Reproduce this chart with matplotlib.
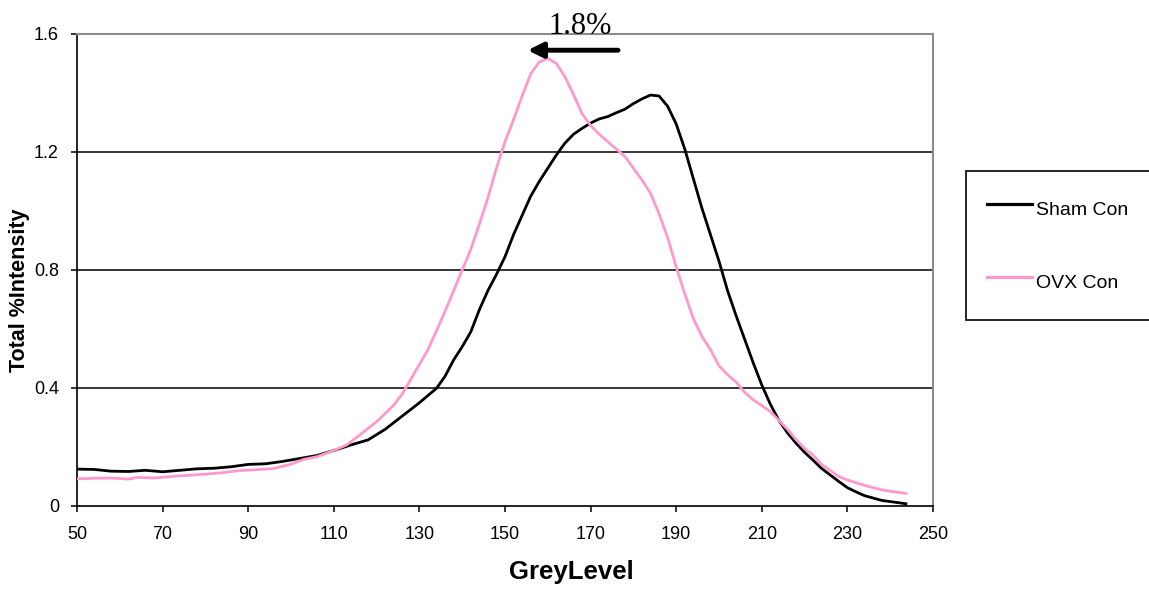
import matplotlib
matplotlib.use("Agg")
import matplotlib.pyplot as plt
from matplotlib.lines import Line2D

plt.rcParams["font.family"] = ["Liberation Sans", "DejaVu Sans"]

# Grey-level histograms (total % intensity)
sham_grey = [50, 54, 58, 62, 66, 70, 74, 78, 82, 86, 90, 94, 98, 102, 106, 110,
             114, 118, 122, 126, 130, 134, 136, 138, 140, 142, 144, 146, 148, 150,
             152, 154, 156, 158, 160, 162, 164, 166, 168, 170, 172, 174, 176, 178,
             180, 182, 184, 186, 188, 190, 192, 194, 196, 198, 200, 202, 204, 206,
             208, 210, 212, 214, 216, 218, 220, 222, 224, 226, 228, 230, 232, 234,
             236, 238, 240, 242, 244]
sham_int = [0.125, 0.124, 0.118, 0.117, 0.121, 0.116, 0.121, 0.126, 0.128, 0.133,
            0.141, 0.143, 0.151, 0.161, 0.171, 0.188, 0.207, 0.224, 0.260, 0.305,
            0.350, 0.399, 0.440, 0.495, 0.540, 0.590, 0.665, 0.730, 0.785, 0.845,
            0.920, 0.985, 1.050, 1.100, 1.145, 1.190, 1.230, 1.260, 1.280, 1.298,
            1.312, 1.320, 1.333, 1.345, 1.364, 1.380, 1.393, 1.390, 1.355, 1.295,
            1.210, 1.110, 1.010, 0.920, 0.830, 0.730, 0.645, 0.565, 0.485, 0.410,
            0.345, 0.290, 0.248, 0.213, 0.182, 0.155, 0.127, 0.105, 0.083, 0.062,
            0.048, 0.035, 0.027, 0.019, 0.015, 0.011, 0.007]

ovx_grey = [50, 54, 58, 62, 64, 68, 72, 76, 80, 84, 88, 92, 96, 100, 103, 106, 110,
            113, 116, 120, 124, 126, 128, 130, 132, 134, 136, 138, 140, 142, 144,
            146, 148, 150, 152, 154, 156, 158, 160, 162, 164, 166, 168, 170, 172,
            174, 176, 178, 180, 182, 184, 186, 188, 190, 192, 194, 196, 198, 200,
            202, 204, 206, 208, 210, 212, 214, 216, 218, 220, 222, 224, 226, 228,
            230, 232, 234, 236, 238, 240, 242, 244]
ovx_int = [0.092, 0.094, 0.095, 0.091, 0.097, 0.095, 0.100, 0.104, 0.108, 0.113,
           0.120, 0.123, 0.127, 0.142, 0.158, 0.167, 0.188, 0.207, 0.240, 0.286,
           0.342, 0.380, 0.430, 0.480, 0.530, 0.595, 0.660, 0.730, 0.800, 0.870,
           0.955, 1.045, 1.145, 1.235, 1.310, 1.390, 1.465, 1.505, 1.517, 1.500,
           1.455, 1.395, 1.330, 1.290, 1.260, 1.235, 1.210, 1.185, 1.145, 1.105,
           1.060, 0.990, 0.910, 0.810, 0.720, 0.635, 0.575, 0.530, 0.475, 0.445,
           0.420, 0.385, 0.360, 0.340, 0.320, 0.290, 0.260, 0.225, 0.195, 0.172,
           0.140, 0.120, 0.100, 0.088, 0.079, 0.070, 0.062, 0.055, 0.050, 0.046,
           0.042]

x_ticks = [50, 70, 90, 110, 130, 150, 170, 190, 210, 230, 250]
y_ticks = [0, 0.4, 0.8, 1.2, 1.6]
y_tick_labels = ["0", "0.4", "0.8", "1.2", "1.6"]
series_labels = ["Sham Con", "OVX Con"]
shift_label = "1.8%"

fig = plt.figure(figsize=(11.49, 5.90), dpi=100)
ax = fig.add_axes([77 / 1149, 84 / 590, (933 - 77) / 1149, (506 - 34) / 590])

sham_color = "#000000"
ovx_color = "#FF99CC"

ax.plot(sham_grey, sham_int, color=sham_color, lw=2.0, solid_capstyle="butt",
        solid_joinstyle="round", zorder=3)
ax.plot(ovx_grey, ovx_int, color=ovx_color, lw=2.0, solid_capstyle="butt",
        solid_joinstyle="round", zorder=3)

ax.set_xlim(50, 250)
ax.set_ylim(0, 1.6)
ax.set_xticks(x_ticks)
ax.set_yticks(y_ticks)
ax.set_yticklabels(y_tick_labels)

for yv in y_ticks[1:-1]:
    ax.axhline(yv, color="black", lw=1.1, zorder=1)

for side in ("left", "bottom"):
    ax.spines[side].set_color("black")
    ax.spines[side].set_linewidth(1.2)
for side in ("top", "right"):
    ax.spines[side].set_color("#8c8c8c")
    ax.spines[side].set_linewidth(1.5)

ax.tick_params(axis="x", direction="out", length=4, width=1.1, pad=10.5, labelsize=13)
ax.tick_params(axis="y", direction="out", length=4, width=1.1, pad=9, labelsize=13)

fig.text(571 / 1149, 1 - 572 / 590, "GreyLevel", ha="center", va="center",
         fontsize=18.5, fontweight="bold")
fig.text(20 / 1149, 1 - 290 / 590, "Total %Intensity", ha="center", va="center",
         rotation=90, fontsize=15.5, fontweight="bold")

# Peak-shift arrow and annotation
ax.annotate("", xy=(155.3, 1.545), xytext=(176.4, 1.545),
            arrowprops=dict(arrowstyle="-|>,head_length=0.9,head_width=0.45",
                            color="black", lw=3.5, shrinkA=0, shrinkB=0),
            annotation_clip=False)
ax.text(167.6, 1.600, shift_label, ha="center", va="baseline", fontsize=22,
        family=["Liberation Serif", "DejaVu Serif"], clip_on=False)

handles = [Line2D([], [], color=sham_color, lw=2.3),
           Line2D([], [], color=ovx_color, lw=2.3)]
fig.legend(handles, series_labels, loc="upper left",
           bbox_to_anchor=(966 / 1149, 1 - 171 / 590, 0.2, 0.0), mode="expand",
           borderaxespad=0, fontsize=14, frameon=True, fancybox=False,
           edgecolor="black", framealpha=1, borderpad=1.1, handlelength=2.3,
           handleheight=2.25, handletextpad=0.2, labelspacing=2.05)
fig.legends[0].get_frame().set_linewidth(1.2)

fig.savefig("out.png", dpi=100)
